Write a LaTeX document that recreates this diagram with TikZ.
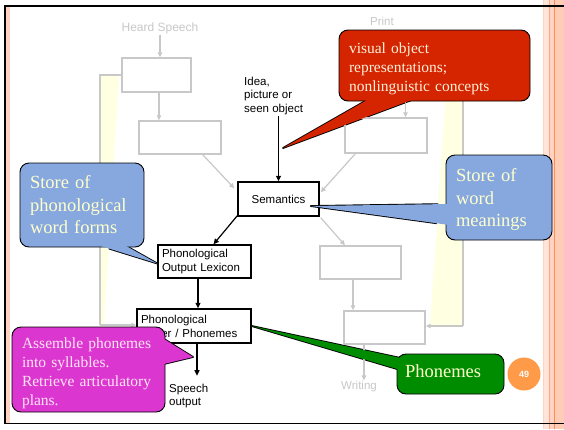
\documentclass[tikz,border=0pt]{standalone}
\usepackage{fontspec}
\setmainfont{Liberation Serif}
\setsansfont{Liberation Sans}
\usetikzlibrary{arrows.meta,calc}
\definecolor{gr}{HTML}{C8C8C8}
\definecolor{yel}{HTML}{FFFFE2}
\definecolor{cred}{HTML}{D52400}
\definecolor{cblue}{HTML}{86A8DF}
\definecolor{cmag}{HTML}{DC36D0}
\definecolor{cgreen}{HTML}{008C00}
\definecolor{corange}{HTML}{FF9A48}
\definecolor{tcream}{HTML}{FFF2DA}
\definecolor{tyel}{HTML}{FFFFCC}
\definecolor{tpink}{HTML}{FFE6F5}
\definecolor{pk1}{HTML}{FFE4DA}
\definecolor{pk2}{HTML}{FFD2C2}
\definecolor{pk3}{HTML}{FFCCB6}
\definecolor{pkl}{HTML}{F8A888}
\definecolor{orl}{HTML}{F89058}
\pgfdeclarelayer{back}
\pgfdeclarelayer{strokes}
\pgfsetlayers{back,strokes,main}
\begin{document}
\begin{tikzpicture}[x=1pt,y=-1pt,
  lab/.style={font=\sffamily\fontsize{11.5}{13.5}\selectfont, inner sep=1pt, align=left},
  glab/.style={lab, text=gr},
  gbox/.style={draw=gr, line width=1.4pt, inner sep=0pt},
  bbox/.style={draw=black, line width=1.4pt, inner sep=0pt, font=\sffamily\fontsize{11.5}{14}\selectfont},
  lbox/.style={bbox, text width=85pt, inner xsep=4pt, align=left, minimum height=33pt},
  garr/.style={draw=gr, line width=1.2pt, -{Triangle[length=5pt,width=4.5pt]}},
  gline/.style={draw=gr, line width=1.2pt},
  barr/.style={draw=black, line width=1.2pt, -{Triangle[length=5.5pt,width=5pt]}},
  cbody/.style={draw=black, line width=0.9pt, rounded corners=9pt, inner xsep=10pt, inner ysep=0pt, align=left},
  ptrstroke/.style={draw=black, line width=1.8pt, line join=round},
  smallfont/.style={font=\fontsize{15.5}{19}\selectfont},
  bigfont/.style={font=\fontsize{18.5}{22.5}\selectfont}
]
\useasboundingbox (0,0) rectangle (564,429);
\begin{pgfonlayer}{back}
  \fill[white] (0,0) rectangle (564,429);
  \fill[pk1] (543,0) rectangle (564,429);
  \fill[pk2] (550,0) rectangle (554,429);
  \fill[pk3] (554,0) rectangle (564,429);
  \draw[pk2, line width=1pt] (543.5,0) -- (543.5,429);
  \draw[pkl, line width=0.8pt] (549.5,0) -- (549.5,429);
  \draw[orl, line width=1pt] (554.3,0) -- (554.3,429);
  \fill[pk2] (6,6) rectangle (9.5,424);
\end{pgfonlayer}

% yellow wedges
\fill[yel] (100,75) -- (119,75) -- (104,325) -- (100,325) -- cycle;
\fill[yel] (447,75) -- (463,75) -- (463,325) -- (430,325) -- cycle;

% gray boxes
\node[gbox, minimum width=69pt, minimum height=34pt] (b1) at (156.5,75) {};
\node[gbox, minimum width=82pt, minimum height=33pt] (b2) at (180,137.5) {};
\node[gbox, minimum width=69pt, minimum height=34pt] (r1) at (405.5,75) {};
\node[gbox, minimum width=82pt, minimum height=35pt] (r2) at (386,135.5) {};
\node[gbox, minimum width=81pt, minimum height=33pt] (r3) at (360.5,262.5) {};
\node[gbox, minimum width=81pt, minimum height=33pt] (r4) at (384.5,327.5) {};

% black boxes
\node[bbox, minimum width=81pt, minimum height=34pt] (sem) at (278.5,199) {Semantics};
\node[lbox] (pol) at (204.5,261.5) {Phonological\\Output Lexicon};
\node[lbox, text width=106pt, minimum height=34pt] (pb) at (194,326) {Phonological\\Buffer / Phonemes};
\node[lab, anchor=west] (idea) at (243,96) {Idea,\\picture or\\seen object};
\node[lab, anchor=west] (so) at (168,396) {Speech\\output};

% gray labels
\node[glab, font=\sffamily\fontsize{12}{14}\selectfont] (hs) at (160,28) {Heard Speech};
\node[glab] (pr) at (382,21) {Print};
\node[glab] (wr) at (359,387) {Writing};

% gray arrows
\draw[garr] (hs.south) -- (hs.south |- b1.north);
\draw[garr] ([xshift=2.5pt]b1.south) -- ([xshift=2.5pt]b1.south |- b2.north);
\draw[garr] (r1.south) -- (r1.south |- r2.north);
\draw[garr] ([xshift=-19pt]b2.south east) -- ([xshift=-3pt,yshift=-7pt]sem.north west);
\draw[garr] ([xshift=11pt]r2.south west) -- ([xshift=1pt,yshift=-11pt]sem.north east);
\draw[garr] ([xshift=1pt,yshift=-1pt]sem.south east) -- ([xshift=-15.5pt]r3.north);
\draw[garr] ([xshift=-7.5pt]r3.south) -- ([xshift=-7.5pt]r3.south |- r4.north);
\draw[garr] ([xshift=-20.5pt]r4.south) -- ([xshift=-20.5pt]r4.south |- wr.north);
\draw[gline] (b1.west) -- (100,75) -- (100,325) coordinate (lc);
\draw[garr] (lc) -- (lc -| pb.west);
\draw[gline] (r1.east) -- (463,75) -- (463,326) coordinate (rc);
\draw[garr] (rc) -- (rc -| r4.east);

% black arrows
\draw[barr] (idea.south -| sem.north) -- (sem.north);
\draw[barr] ([yshift=1pt]sem.south west) -- ([xshift=9pt]pol.north);
\draw[barr] ([xshift=-6.5pt]pol.south) -- ([xshift=-6.5pt]pol.south |- pb.north);
\draw[barr] ([xshift=3pt]pb.south) -- ([xshift=3pt,yshift=7pt]pb.south |- so.north);

% red callout
\node[cbody, smallfont, fill=cred, text=tcream, text width=171pt, minimum height=71pt] (cr) at (434.5,65.5) {\rule{0pt}{16.6pt}visual object\\representations;\\nonlinguistic concepts};
\begin{pgfonlayer}{strokes}
\filldraw[fill=cred, ptrstroke] ($(cr.south west)+(33,-4)$) -- (283,148) -- ($(cr.south west)+(80,-4)$) -- cycle;
\end{pgfonlayer}
\fill[cred] ($(cr.south west)+(33,-4)$) -- (283,148) -- ($(cr.south west)+(80,-4)$) -- cycle;

% blue left callout
\node[cbody, bigfont, fill=cblue, text=tyel, text width=104pt, minimum height=84pt] (cbl) at (82,205) {Store of\\phonological\\word forms};
\begin{pgfonlayer}{strokes}
\filldraw[fill=cblue, ptrstroke] ($(cbl.south west)+(73,-4)$) -- ([yshift=-2pt]pol.west) -- ($(cbl.south west)+(102,-4)$) -- cycle;
\end{pgfonlayer}
\fill[cblue] ($(cbl.south west)+(73,-4)$) -- ([yshift=-2pt]pol.west) -- ($(cbl.south west)+(102,-4)$) -- cycle;

% blue right callout
\node[cbody, bigfont, fill=cblue, text=tyel, text width=86pt, minimum height=85pt] (cbr) at (499,197.5) {\rule{0pt}{17pt}Store of\\word\\meanings};
\begin{pgfonlayer}{strokes}
\filldraw[fill=cblue, ptrstroke] ($(cbr.west)+(4,6.5)$) -- ($(sem.east)+(-9,7)$) -- ($(cbr.west)+(4,27.5)$) -- cycle;
\end{pgfonlayer}
\fill[cblue] ($(cbr.west)+(4,6.5)$) -- ($(sem.east)+(-9,7)$) -- ($(cbr.west)+(4,27.5)$) -- cycle;

% magenta callout
\node[cbody, smallfont, fill=cmag, text=tpink, text width=133pt, minimum height=85pt] (cm) at (88.5,369.5) {\rule{0pt}{19pt}Assemble phonemes\\into syllables.\\Retrieve articulatory\\plans.};
\begin{pgfonlayer}{strokes}
\filldraw[fill=cmag, ptrstroke] ($(cm.north east)+(-15,4)$) -- (193,357) -- ($(cm.north east)+(-4,38)$) -- cycle;
\end{pgfonlayer}
\fill[cmag] ($(cm.north east)+(-15,4)$) -- (193,357) -- ($(cm.north east)+(-4,38)$) -- cycle;

% green callout
\node[cbody, bigfont, fill=cgreen, text=tyel, inner xsep=8pt, text width=91pt, minimum height=40pt] (cg) at (450.5,374) {Phonemes\rule[-6pt]{0pt}{6pt}};
\begin{pgfonlayer}{strokes}
\filldraw[fill=cgreen, ptrstroke] ($(cg.west)+(4,-16)$) -- (pb.east) -- ($(cg.west)+(4,-4)$) -- cycle;
\end{pgfonlayer}
\fill[cgreen] ($(cg.west)+(4,-16)$) -- (pb.east) -- ($(cg.west)+(4,-4)$) -- cycle;

% page number
\node[circle, fill=corange, minimum size=33pt, inner sep=0pt, text=white, font=\sffamily\bfseries\fontsize{9}{10}\selectfont] (pg) at (524,374) {49};

% frame
\draw[black, line width=2pt] (4,6) -- (564,6);
\draw[black, line width=1.8pt] (5,5) -- (5,424);
\draw[black, line width=1.6pt] (4,423.5) -- (564,423.5);
\end{tikzpicture}
\end{document}
